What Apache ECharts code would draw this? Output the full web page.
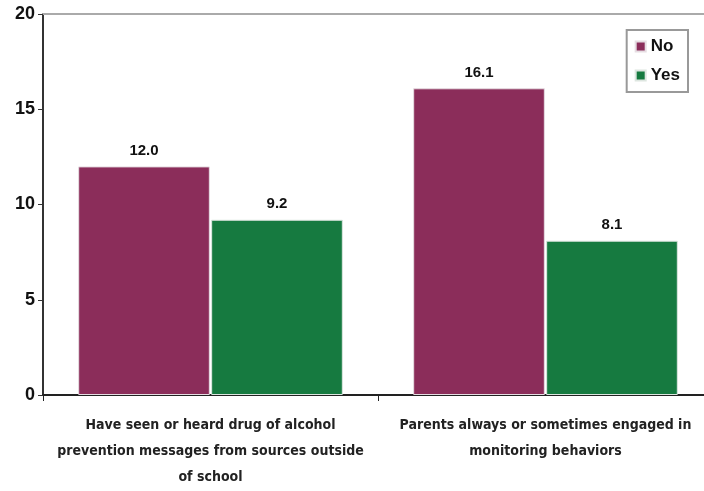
<!DOCTYPE html>
<html>
<head>
<meta charset="utf-8">
<script src="https://cdn.jsdelivr.net/npm/echarts@6/dist/echarts.min.js"></script>
<style>
  html, body { margin: 0; padding: 0; background: #fff; }
  #chart { width: 704px; height: 491px; }
</style>
</head>
<body>
<div id="chart"></div>
<script>
// Category labels along the x axis
const categories = [
  'Have seen or heard drug of alcohol\nprevention messages from sources outside\nof school',
  'Parents always or sometimes engaged in\nmonitoring behaviors'
];
// Percentages per response group
const noValues = [12.0, 16.1];
const yesValues = [9.2, 8.1];
const yTicks = [0, 5, 10, 15, 20];

const chart = echarts.init(document.getElementById('chart'));

const valueLabel = {
  show: true,
  position: 'top',
  distance: 8,
  formatter: p => p.value.toFixed(1),
  fontFamily: 'Liberation Sans',
  fontWeight: 'bold',
  fontSize: 15,
  color: '#111'
};

chart.setOption({
  animation: false,
  backgroundColor: '#fff',
  grid: { left: 43, right: -9, top: 14, bottom: 96, outerBoundsMode: 'none', containLabel: false },
  legend: {
    orient: 'vertical',
    right: 16,
    top: 30,
    itemWidth: 10,
    itemHeight: 10,
    itemGap: 12,
    padding: [8, 8, 8, 8],
    borderColor: '#999',
    borderWidth: 2,
    icon: 'rect',
    textStyle: { fontFamily: 'Liberation Sans', fontWeight: 'bold', fontSize: 17, color: '#111' },
    data: ['No', 'Yes']
  },
  xAxis: [{
    type: 'category',
    data: categories,
    axisLine: { lineStyle: { color: '#222', width: 2 } },
    axisTick: { show: true, length: 6, lineStyle: { color: '#222' } },
    axisLabel: {
      interval: 0,
      margin: 17,
      lineHeight: 26,
      fontFamily: "'Liberation Sans Narrow', 'DejaVu Sans Condensed', 'Liberation Sans', sans-serif",
      fontWeight: 'bold',
      fontSize: 14,
      color: '#222'
    }
  }, {
    type: 'category',
    position: 'top',
    data: categories,
    axisLine: { lineStyle: { color: '#aaa', width: 2 } },
    axisTick: { show: false },
    axisLabel: { show: false }
  }],
  yAxis: {
    type: 'value',
    min: yTicks[0],
    max: yTicks[yTicks.length - 1],
    interval: 5,
    axisLine: { show: true, lineStyle: { color: '#333', width: 2 } },
    axisTick: { show: true, length: 5, lineStyle: { color: '#333' } },
    splitLine: { show: false },
    axisLabel: {
      margin: 8,
      fontFamily: 'Liberation Sans',
      fontWeight: 'bold',
      fontSize: 18,
      color: '#111'
    }
  },
  series: [{
    name: 'No',
    type: 'bar',
    data: noValues,
    barGap: '1%',
    barCategoryGap: '21%',
    itemStyle: { color: '#8b2d5a', borderColor: '#e6dde2', borderWidth: 1 },
    label: valueLabel
  }, {
    name: 'Yes',
    type: 'bar',
    data: yesValues,
    barGap: '1%',
    barCategoryGap: '21%',
    itemStyle: { color: '#167a40', borderColor: '#dde6e0', borderWidth: 1 },
    label: valueLabel
  }]
});
</script>
</body>
</html>
